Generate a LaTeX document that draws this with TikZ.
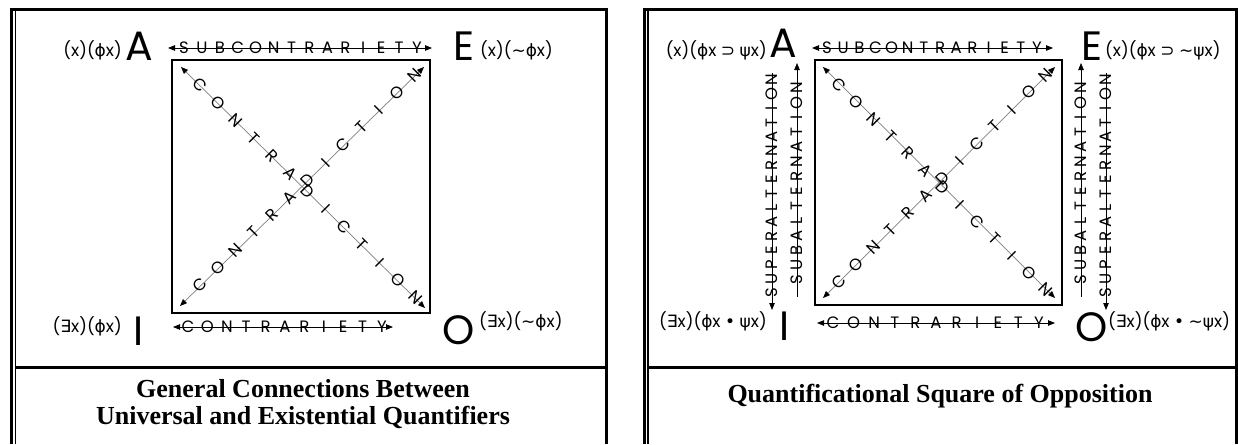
\documentclass[tikz,border=0pt]{standalone}
\usepackage{fontspec}
\setmainfont{Liberation Serif}
\newfontfamily\geo{Poppins}
\newfontfamily\sym{DejaVu Sans}
\usetikzlibrary{arrows.meta,calc}
\newcommand\gphi{{\sym\symbol{"03D5}}}
\newcommand\gpsi{{\sym\symbol{"03C8}}}
\newcommand\gex{{\sym\symbol{"2203}}}
\newcommand\gsup{{\sym\symbol{"2283}}}
\newcommand\gbul{{\sym\symbol{"2022}}}
\newcommand\gneg{{\sym\symbol{"223C}}}
% #1 first letter coord, #2 last letter coord, #3 gaps, #4 letters, #5 style, #6 name prefix
\newcommand\spacedtext[6]{%
  \foreach \lett [count=\i, evaluate=\i as \p using (\i-1)/#3] in {#4}
    {\node[lt,#5] (#6\i) at ($(#1)!\p!(#2)$) {\lett};}}
\begin{document}
\begin{tikzpicture}[x=1pt,y=-1pt,
  frame/.style={line width=3pt},
  thinframe/.style={line width=1.2pt},
  sq/.style={line width=2.5pt},
  big/.style={font=\geo\fontsize{41}{41}\selectfont, inner sep=0pt, anchor=base},
  fml/.style={font=\geo\fontsize{17}{17}\selectfont, inner sep=0pt},
  lt/.style={font=\geo\fontsize{16.5}{16.5}\selectfont, inner sep=0pt},
  tip/.tip={Triangle[length=7pt,width=5.5pt,color=black]},
  harr/.style={line width=0.8pt, tip-tip},
  darr/.style={line width=0.7pt, draw=gray, tip-tip},
  uarr/.style={line width=0.8pt, -tip},
  ttl/.style={font=\bfseries\fontsize{26}{27}\selectfont, inner sep=0pt, anchor=base}
]
\useasboundingbox (0,0) rectangle (1238,444);
\fill[white] (0,0) rectangle (1238,444);

% ---------- frames ----------
\draw[frame] (11,444) -- (11,10) -- (606,10) -- (606,444);
\draw[thinframe] (15.5,11.5) -- (15.5,444);
\draw[frame] (15.5,367) -- (606,367);
\draw[frame] (644,444) -- (644,10) -- (1236,10) -- (1236,444);
\draw[thinframe] (648,11.5) -- (648,444);
\draw[frame] (648,367) -- (1236,367);

% ================= LEFT PANEL =================
\draw[sq] (172,60) rectangle (430,313);

\node[big] (A1) at (139,60) {A};
\node[big] (E1) at (464,60) {E};
\node[big] (I1) at (139,345) {I};
\node[big] (O1) at (459,344) {O};

\node[fml, anchor=east] (fA1) at (122,50) {(x)(\gphi x)};
\node[fml, anchor=west] (fE1) at (480,50) {(x)(\gneg\gphi x)};
\node[fml, anchor=east] (fI1) at (122,326) {(\gex x)(\gphi x)};
\node[fml, anchor=west] (fO1) at (479,321) {(\gex x)(\gneg\gphi x)};

% top arrow
\coordinate (ta1) at (168,48); \coordinate (tb1) at (432,48);
\draw[harr] (ta1) -- (tb1);
\coordinate (tf1) at (184,48); \coordinate (tl1) at (417,48);
\spacedtext{tf1}{tl1}{13}{S,U,B,C,O,N,T,R,A,R,I,E,T,Y}{}{sc1-}
% bottom arrow
\coordinate (ba1) at (173,327); \coordinate (bb1) at (393,327);
\draw[harr] (ba1) -- (bb1);
\coordinate (bf1) at (188,327); \coordinate (bl1) at (382,327);
\spacedtext{bf1}{bl1}{10}{C,O,N,T,R,A,R,I,E,T,Y}{}{c1-}
% diagonals
\coordinate (d1a) at (181,67); \coordinate (d1b) at (425,308);
\draw[darr] (d1a) -- (d1b);
\coordinate (d1f) at (200,85); \coordinate (d1l) at (416,298);
\spacedtext{d1f}{d1l}{12}{C,O,N,T,R,A,D,I,C,T,I,O,N}{rotate=-45}{ct1-}
\coordinate (d2a) at (180,306); \coordinate (d2b) at (424,67);
\draw[darr] (d2a) -- (d2b);
\coordinate (d2f) at (200,285); \coordinate (d2l) at (415,75);
\spacedtext{d2f}{d2l}{12}{C,O,N,T,R,A,D,I,C,T,I,O,N}{rotate=45}{cu1-}

\node[ttl] (t1a) at (303,397) {General Connections Between};
\node[ttl] (t1b) at (303,424) {Universal and Existential Quantifiers};

% ================= RIGHT PANEL =================
\draw[sq] (815,60) rectangle (1062,305);

\node[big] (A2) at (783,58) {A};
\node[big] (E2) at (1092,60) {E};
\node[big] (I2) at (785,340) {I};
\node[big] (O2) at (1092,341) {O};

\node[fml, anchor=east] (fA2) at (767,50) {(x)(\gphi x \gsup\ \gpsi x)};
\node[fml, anchor=west] (fE2) at (1105,50) {(x)(\gphi x \gsup\ \gneg\gpsi x)};
\node[fml, anchor=east] (fI2) at (767,321) {(\gex x)(\gphi x \gbul\ \gpsi x)};
\node[fml, anchor=west] (fO2) at (1108,321) {(\gex x)(\gphi x \gbul\ \gneg\gpsi x)};

% top arrow
\coordinate (ta2) at (812,48); \coordinate (tb2) at (1053,48);
\draw[harr] (ta2) -- (tb2);
\coordinate (tf2) at (827,48); \coordinate (tl2) at (1037,48);
\spacedtext{tf2}{tl2}{13}{S,U,B,C,O,N,T,R,A,R,I,E,T,Y}{}{sc2-}
% bottom arrow
\coordinate (ba2) at (817,323); \coordinate (bb2) at (1055,323);
\draw[harr] (ba2) -- (bb2);
\coordinate (bf2) at (833,323); \coordinate (bl2) at (1039,323);
\spacedtext{bf2}{bl2}{10}{C,O,N,T,R,A,R,I,E,T,Y}{}{c2-}
% diagonals
\coordinate (d3a) at (823,67); \coordinate (d3b) at (1055,298);
\draw[darr] (d3a) -- (d3b);
\coordinate (d3f) at (839,85); \coordinate (d3l) at (1046,290);
\spacedtext{d3f}{d3l}{12}{C,O,N,T,R,A,D,I,C,T,I,O,N}{rotate=-45}{ct2-}
\coordinate (d4a) at (823,298); \coordinate (d4b) at (1055,67);
\draw[darr] (d4a) -- (d4b);
\coordinate (d4f) at (839,282); \coordinate (d4l) at (1046,75);
\spacedtext{d4f}{d4l}{12}{C,O,N,T,R,A,D,I,C,T,I,O,N}{rotate=45}{cu2-}

% alternation arrows, left side
\coordinate (spA) at (772,73); \coordinate (spI) at (772,310);
\draw[uarr] (spA) -- (spI);
\coordinate (spf) at (772,293); \coordinate (spl) at (772,80);
\spacedtext{spf}{spl}{15}{S,U,P,E,R,A,L,T,E,R,N,A,T,I,O,N}{rotate=90}{sp1-}
\coordinate (sbI) at (797,297); \coordinate (sbA) at (797,63);
\draw[uarr] (sbI) -- (sbA);
\coordinate (sbf) at (797,280); \coordinate (sbl) at (797,88);
\spacedtext{sbf}{sbl}{13}{S,U,B,A,L,T,E,R,N,A,T,I,O,N}{rotate=90}{sb1-}
% alternation arrows, right side
\coordinate (sbO) at (1081,297); \coordinate (sbE) at (1081,63);
\draw[uarr] (sbO) -- (sbE);
\coordinate (sbf2) at (1081,280); \coordinate (sbl2) at (1081,88);
\spacedtext{sbf2}{sbl2}{13}{S,U,B,A,L,T,E,R,N,A,T,I,O,N}{rotate=90}{sb2-}
\coordinate (spE) at (1106,73); \coordinate (spO) at (1106,310);
\draw[uarr] (spE) -- (spO);
\coordinate (spf2) at (1106,293); \coordinate (spl2) at (1106,80);
\spacedtext{spf2}{spl2}{15}{S,U,P,E,R,A,L,T,E,R,N,A,T,I,O,N}{rotate=90}{sp2-}

\node[ttl] (t2) at (940,402) {Quantificational Square of Opposition};
\end{tikzpicture}
\end{document}
